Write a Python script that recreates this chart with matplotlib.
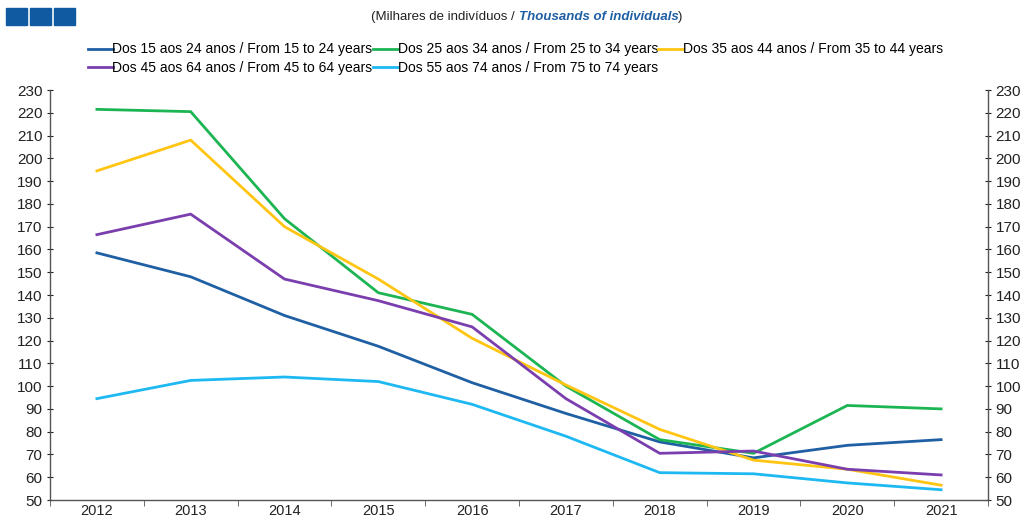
import numpy as np
import matplotlib.pyplot as plt
from matplotlib.patches import Rectangle

# ----- data (thousands of individuals) -----
years = ['2012', '2013', '2014', '2015', '2016', '2017', '2018', '2019', '2020', '2021']
labels = ['Dos 15 aos 24 anos / From 15 to 24 years',
          'Dos 25 aos 34 anos / From 25 to 34 years',
          'Dos 35 aos 44 anos / From 35 to 44 years',
          'Dos 45 aos 64 anos / From 45 to 64 years',
          'Dos 55 aos 74 anos / From 75 to 74 years']
age_15_24 = [158.5, 148, 131, 117.5, 101.5, 88, 75.5, 68.5, 74, 76.5]
age_25_34 = [221.5, 220.5, 173.5, 141, 131.5, 100, 76.5, 70.5, 91.5, 90]
age_35_44 = [194.5, 208, 170, 147, 121, 100.5, 81, 67.5, 63.5, 56.5]
age_45_64 = [166.5, 175.5, 147, 137.5, 126, 94.5, 70.5, 71.5, 63.5, 61]
age_55_74 = [94.5, 102.5, 104, 102, 92, 78, 62, 61.5, 57.5, 54.5]
series = [age_15_24, age_25_34, age_35_44, age_45_64, age_55_74]
colors = ['#1F5FA3', '#1DB553', '#FFC512', '#7A3EAE', '#1EB8F2']

plt.rcParams['font.family'] = ['Liberation Sans', 'DejaVu Sans']

fig = plt.figure(figsize=(10.24, 5.2), dpi=100)
ax = fig.add_axes([50/1024, 20/520, 938/1024, 410/520])

x = np.arange(len(years))
handles = []
for vals, c, lab in zip(series, colors, labels):
    h, = ax.plot(x, vals, color=c, lw=2.0, label=lab, solid_joinstyle='miter')
    handles.append(h)

ax.set_xlim(-0.5, len(years) - 0.5)
ax.set_ylim(50, 230)
ax.set_yticks(np.arange(50, 231, 10))
ax.set_xticks(x)
ax.set_xticklabels(years)
ax.set_xticks(np.arange(-0.5, len(years)), minor=True)
ax.tick_params(axis='x', which='major', length=0, labelsize=10.5, pad=3, colors='#222222')
ax.tick_params(axis='x', which='minor', length=4, color='#555555')
ax.tick_params(axis='y', length=5, direction='inout', labelsize=11, right=True,
               labelright=True, colors='#222222', pad=3)
ax.spines['top'].set_visible(False)
for s in ['left', 'right', 'bottom']:
    ax.spines[s].set_color('#555555')
    ax.spines[s].set_linewidth(1.0)

# legend in row-major order
order = [0, 3, 1, 4, 2]
fig.legend([handles[i] for i in order], [labels[i] for i in order],
           loc='upper left', bbox_to_anchor=(75/1024, 1 - 30/520), ncol=3,
           frameon=False, handlelength=1.8, handletextpad=0.0, columnspacing=0.0,
           labelspacing=0.35, prop={'size': 10})

# header: three blue squares and subtitle
for i in range(3):
    fig.add_artist(Rectangle(((6 + i*24)/1024, 1 - 25/520), 21/1024, 17/520,
                             transform=fig.transFigure, color='#0F5AA0'))

parts = [('(Milhares de indivíduos / ', '#222222', 'normal', 'normal'),
         ('Thousands of individuals', '#1F5FA3', 'italic', 'bold'),
         (')', '#222222', 'normal', 'normal')]
renderer = fig.canvas.get_renderer()
texts = []
for s, c, st, w in parts:
    t = fig.text(0, 1 - 17/520, s, ha='left', va='center', fontsize=9.5,
                 color=c, style=st, weight=w)
    texts.append(t)
widths = [t.get_window_extent(renderer).width for t in texts]
xpos = 527 - sum(widths) / 2
for t, wd in zip(texts, widths):
    t.set_x(xpos / 1024)
    xpos += wd

fig.savefig('out.png', dpi=100)
